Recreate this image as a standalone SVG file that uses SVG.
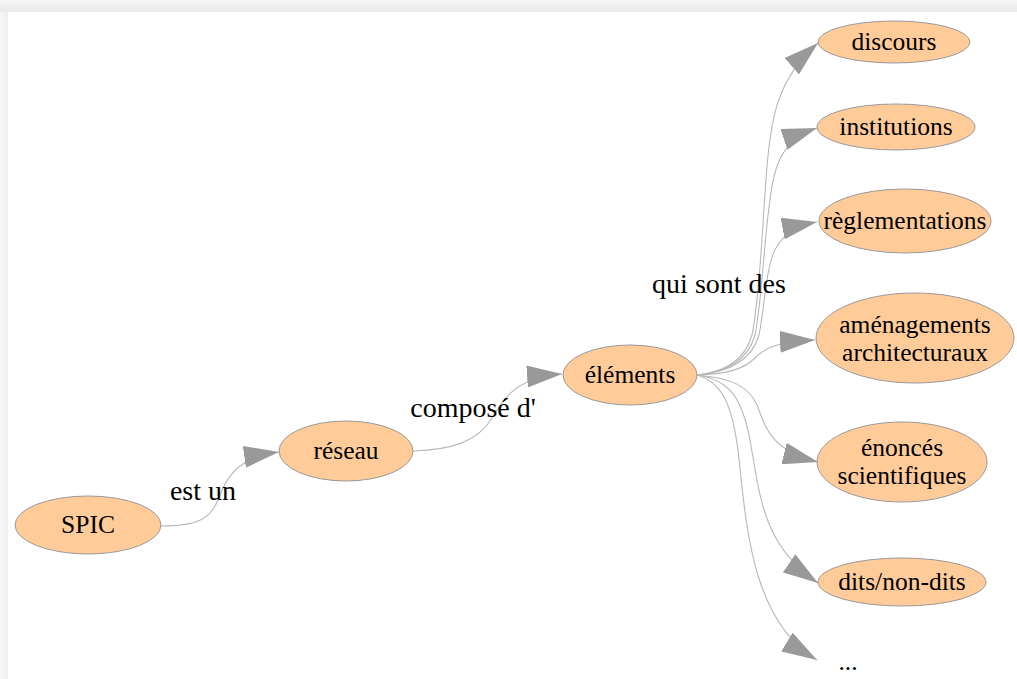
<svg xmlns="http://www.w3.org/2000/svg" width="1017" height="679" viewBox="0 0 1017 679">
  <defs>
    <linearGradient id="topShade" x1="0" y1="0" x2="0" y2="1">
      <stop offset="0" stop-color="#f7f7f7"/>
      <stop offset="1" stop-color="#e9e9e9"/>
    </linearGradient>
    <linearGradient id="leftShade" x1="0" y1="0" x2="1" y2="0">
      <stop offset="0" stop-color="#f7f7f7"/>
      <stop offset="1" stop-color="#eeeeee"/>
    </linearGradient>
    <marker id="arrow" viewBox="0 0 35 22" refX="35" refY="11" markerWidth="35" markerHeight="22" markerUnits="userSpaceOnUse" orient="auto">
      <path d="M0,0 L35,11 L0,22 Z" fill="#999999"/>
    </marker>
    <style>
      .shape { fill: #ffcc99; stroke: #999999; stroke-width: 1; }
      .edge { fill: none; stroke: #b8b8b8; stroke-width: 1.1; marker-end: url(#arrow); }
    </style>
  </defs>

  <!-- page background with soft frame -->
  <rect x="0" y="0" width="1017" height="679" fill="#f3f3f3"/>
  <rect x="0" y="0" width="1017" height="12" fill="url(#topShade)"/>
  <rect x="0" y="12" width="8" height="667" fill="url(#leftShade)"/>
  <rect x="8" y="12" width="1009" height="667" fill="#ffffff"/>

  <!-- connectors -->
  <g id="edges">
    <path class="edge" d="M161,526 C195,526 210,520 218,500 C226,478 236,458 279,452"/>
    <path class="edge" d="M413,451 C450,450 478,442 492,418 C505,395 520,377 562,374"/>
    <path class="edge" d="M697,375 C725,372 745,360 752,335 C760,295 762,230 766,180 C770,120 776,80 818,43"/>
    <path class="edge" d="M697,375 C728,372 748,360 755,335 C762,300 764,240 770,200 C774,165 782,140 817,128"/>
    <path class="edge" d="M697,375 C730,372 752,360 759,335 C765,305 766,265 776,248 C784,234 796,226 817,222"/>
    <path class="edge" d="M697,375 C730,374 745,368 755,358 C765,348 775,342 815,340"/>
    <path class="edge" d="M697,375 C730,378 748,385 757,405 C766,428 770,450 818,462"/>
    <path class="edge" d="M697,375 C730,380 742,398 750,440 C760,495 762,545 818,583"/>
    <path class="edge" d="M697,375 C722,382 732,405 738,450 C746,520 750,620 817,660"/>
  </g>

  <!-- edge labels -->
  <text font-family="Liberation Serif" font-size="28" text-anchor="middle" x="203" y="500">est un</text>
  <text font-family="Liberation Serif" font-size="28" text-anchor="middle" x="473" y="417">composé d'</text>
  <text font-family="Liberation Serif" font-size="28" text-anchor="middle" x="719" y="293">qui sont des</text>

  <!-- nodes -->
  <g id="node-spic">
    <ellipse class="shape" cx="88" cy="525" rx="73" ry="29"/>
    <text font-family="Liberation Serif" font-size="25.5" text-anchor="middle" x="88" y="533">SPIC</text>
  </g>
  <g id="node-reseau">
    <ellipse class="shape" cx="346" cy="451" rx="67" ry="30"/>
    <text font-family="Liberation Serif" font-size="25.5" text-anchor="middle" x="346" y="459">réseau</text>
  </g>
  <g id="node-elements">
    <ellipse class="shape" cx="630" cy="375" rx="67" ry="30"/>
    <text font-family="Liberation Serif" font-size="25.5" text-anchor="middle" x="630" y="383">éléments</text>
  </g>
  <g id="node-discours">
    <ellipse class="shape" cx="894" cy="42" rx="76" ry="21"/>
    <text font-family="Liberation Serif" font-size="25.5" text-anchor="middle" x="894" y="50">discours</text>
  </g>
  <g id="node-institutions">
    <ellipse class="shape" cx="896" cy="127" rx="79" ry="23"/>
    <text font-family="Liberation Serif" font-size="25.5" text-anchor="middle" x="896" y="135">institutions</text>
  </g>
  <g id="node-reglementations">
    <ellipse class="shape" cx="905" cy="221" rx="86" ry="32"/>
    <text font-family="Liberation Serif" font-size="25.5" text-anchor="middle" x="905" y="229">règlementations</text>
  </g>
  <g id="node-amenagements">
    <ellipse class="shape" cx="915" cy="338" rx="99" ry="45"/>
    <text font-family="Liberation Serif" font-size="25.5" text-anchor="middle" x="915" y="333">aménagements</text>
    <text font-family="Liberation Serif" font-size="25.5" text-anchor="middle" x="915" y="361">architecturaux</text>
  </g>
  <g id="node-enonces">
    <ellipse class="shape" cx="902" cy="462" rx="85" ry="40"/>
    <text font-family="Liberation Serif" font-size="25.5" text-anchor="middle" x="902" y="456">énoncés</text>
    <text font-family="Liberation Serif" font-size="25.5" text-anchor="middle" x="902" y="484">scientifiques</text>
  </g>
  <g id="node-dits">
    <ellipse class="shape" cx="902" cy="582" rx="84" ry="24"/>
    <text font-family="Liberation Serif" font-size="25.5" text-anchor="middle" x="902" y="590">dits/non-dits</text>
  </g>
  <g id="node-etc">
    <text font-family="Liberation Serif" font-size="25.5" text-anchor="middle" x="848" y="670">...</text>
  </g>
</svg>
